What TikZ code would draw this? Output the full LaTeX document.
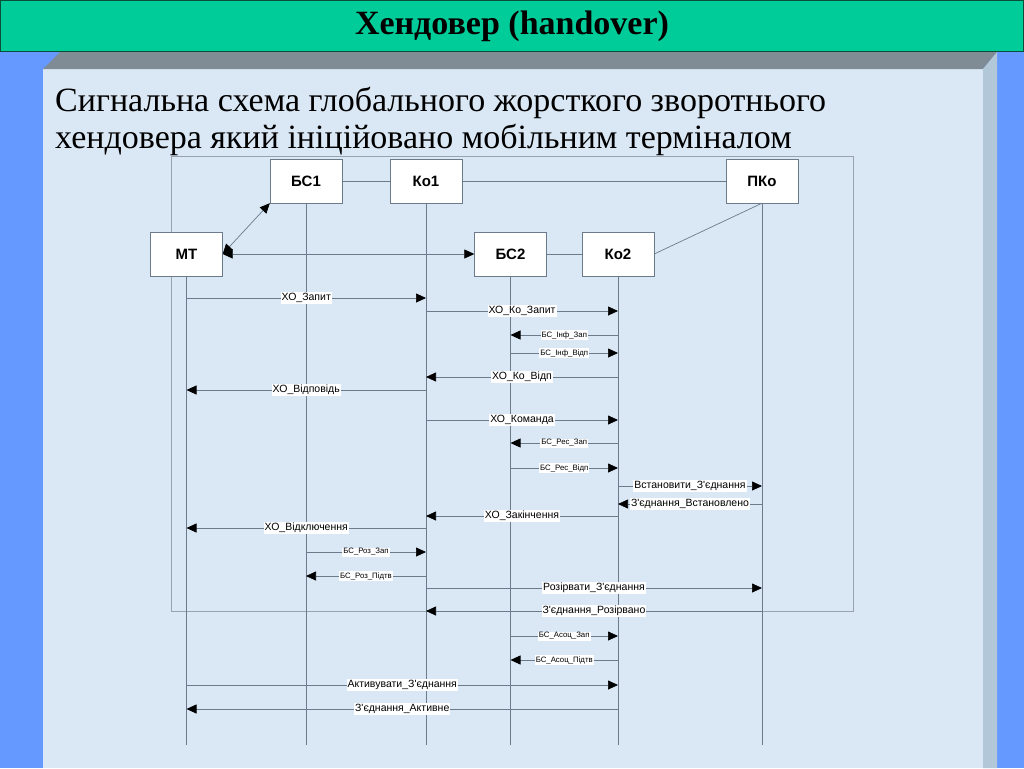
\documentclass[tikz,border=0pt]{standalone}
\usepackage{fontspec}
\setmainfont{Liberation Serif}
\newfontfamily\arialfont{Liberation Sans}
\usetikzlibrary{arrows.meta,positioning}
\definecolor{slideblue}{HTML}{6699FF}
\definecolor{titlegreen}{HTML}{00CC99}
\definecolor{titleedge}{HTML}{0B4F3A}
\definecolor{bevelgray}{HTML}{7F8B95}
\definecolor{bevelside}{HTML}{B2C8D8}
\definecolor{panelblue}{HTML}{DAE7F4}
\definecolor{wire}{HTML}{6B7B8C}
\tikzset{
  obj/.style={draw=wire,fill=white,minimum width=72pt,minimum height=44pt,inner sep=0pt,font=\arialfont\bfseries\fontsize{15}{17}\selectfont},
  life/.style={draw=wire,line width=0.7pt},
  link/.style={draw=wire,line width=0.7pt},
  msg/.style={draw=wire,line width=0.7pt,-{Triangle[length=10pt,width=9pt,color=black]}},
  dmsg/.style={draw=wire,line width=0.7pt,{Triangle[length=10pt,width=9pt,color=black]}-{Triangle[length=10pt,width=9pt,color=black]}},
  lbl/.style={fill=white,inner sep=1pt,font=\arialfont\fontsize{10.5}{12}\selectfont},
  slbl/.style={fill=white,inner sep=1pt,font=\arialfont\fontsize{7.8}{9}\selectfont},
}
\begin{document}
\begin{tikzpicture}[x=1pt,y=-1pt]
 \useasboundingbox (0,0) rectangle (1024,768);
 % slide background
 \fill[slideblue] (0,0) rectangle (1024,768);
 \fill[panelblue] (43,69) rectangle (983,768);
 \fill[bevelgray] (60,52) -- (997,52) -- (983,69) -- (43,69) -- cycle;
 \fill[bevelside] (983,69) -- (997,52) -- (997,768) -- (983,768) -- cycle;
 \draw[titleedge,fill=titlegreen,line width=1pt] (0.5,0.5) rectangle (1023.5,51.5);
 \node[font=\bfseries\fontsize{34}{36}\selectfont] (title) at (512,26) {Хендовер (handover)};
 \node[anchor=base west,inner sep=0pt,font=\fontsize{34}{38}\selectfont] (sub1) at (55,111) {Сигнальна схема глобального жорсткого зворотнього};
 \node[anchor=base west,inner sep=0pt,font=\fontsize{34}{38}\selectfont] (sub2) at (55,148) {хендовера який ініційовано мобільним терміналом};
 \draw[draw=wire!70,line width=0.6pt] (171,156) rectangle (853,611);
 % objects
 \node[obj] (bs1) at (306,181) {БС1};
 \node[obj] (ko1) at (426,181) {Ко1};
 \node[obj] (pko) at (762,181) {ПКо};
 \node[obj] (mt) at (186.5,254) {МТ};
 \node[obj] (bs2) at (510.5,254) {БС2};
 \node[obj] (ko2) at (618,254) {Ко2};
 \draw[link] (bs1) -- (ko1); \draw[link] (ko1) -- (pko);
 \draw[link] (bs2) -- (ko2); \draw[link] (ko2.east) -- (pko.south);
 \draw[dmsg] (mt.east) -- (bs1.south west); \draw[dmsg] (mt.east) -- (bs2.west);
 % lifelines
 \draw[life] (mt) -- (mt |- 0,745); \draw[life] (bs1) -- (bs1 |- 0,745);
 \draw[life] (ko1) -- (ko1 |- 0,745); \draw[life] (bs2) -- (bs2 |- 0,745);
 \draw[life] (ko2) -- (ko2 |- 0,745); \draw[life] (pko) -- (pko |- 0,745);
 % messages
 \draw[msg] (mt |- 0,298) -- node[lbl]{ХО\_Запит} (ko1 |- 0,298);
 \draw[msg] (ko1 |- 0,311) -- node[lbl]{ХО\_Ко\_Запит} (ko2 |- 0,311);
 \draw[msg] (ko2 |- 0,335) -- node[slbl]{БС\_Інф\_Зап} (bs2 |- 0,335);
 \draw[msg] (bs2 |- 0,353) -- node[slbl]{БС\_Інф\_Відп} (ko2 |- 0,353);
 \draw[msg] (ko2 |- 0,377) -- node[lbl]{ХО\_Ко\_Відп} (ko1 |- 0,377);
 \draw[msg] (ko1 |- 0,390) -- node[lbl]{ХО\_Відповідь} (mt |- 0,390);
 \draw[msg] (ko1 |- 0,420) -- node[lbl]{ХО\_Команда} (ko2 |- 0,420);
 \draw[msg] (ko2 |- 0,443) -- node[slbl]{БС\_Рес\_Зап} (bs2 |- 0,443);
 \draw[msg] (bs2 |- 0,468) -- node[slbl]{БС\_Рес\_Відп} (ko2 |- 0,468);
 \draw[msg] (ko2 |- 0,486) -- node[lbl]{Встановити\_З'єднання} (pko |- 0,486);
 \draw[msg] (pko |- 0,504) -- node[lbl]{З'єднання\_Встановлено} (ko2 |- 0,504);
 \draw[msg] (ko2 |- 0,516) -- node[lbl]{ХО\_Закінчення} (ko1 |- 0,516);
 \draw[msg] (ko1 |- 0,528) -- node[lbl]{ХО\_Відключення} (mt |- 0,528);
 \draw[msg] (bs1 |- 0,552) -- node[slbl]{БС\_Роз\_Зап} (ko1 |- 0,552);
 \draw[msg] (ko1 |- 0,576) -- node[slbl]{БС\_Роз\_Підтв} (bs1 |- 0,576);
 \draw[msg] (ko1 |- 0,588) -- node[lbl]{Розірвати\_З'єднання} (pko |- 0,588);
 \draw[msg] (pko |- 0,611) -- node[lbl]{З'єднання\_Розірвано} (ko1 |- 0,611);
 \draw[msg] (bs2 |- 0,636) -- node[slbl]{БС\_Асоц\_Зап} (ko2 |- 0,636);
 \draw[msg] (ko2 |- 0,660) -- node[slbl]{БС\_Асоц\_Підтв} (bs2 |- 0,660);
 \draw[msg] (mt |- 0,685) -- node[lbl]{Активувати\_З'єднання} (ko2 |- 0,685);
 \draw[msg] (ko2 |- 0,709) -- node[lbl]{З'єднання\_Активне} (mt |- 0,709);
\end{tikzpicture}
\end{document}
